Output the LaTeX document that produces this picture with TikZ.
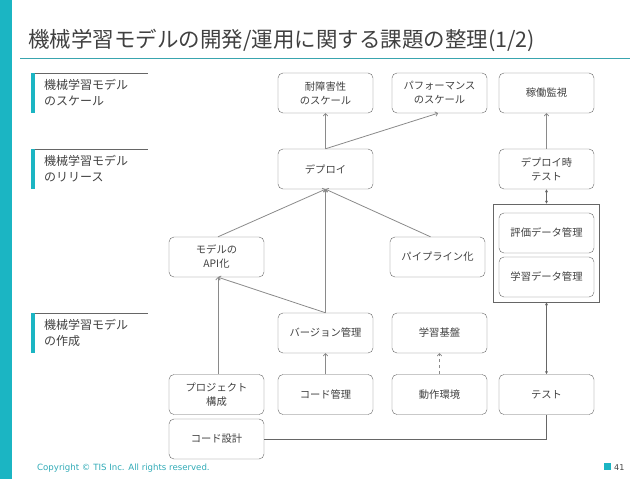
\documentclass[tikz,border=0pt]{standalone}
\usepackage{fontspec}
\setmainfont{Noto Sans CJK JP}
\newfontfamily\footfont{DejaVu Sans}
\usetikzlibrary{arrows.meta}
\definecolor{teal1}{HTML}{1BB5C3}
\definecolor{txt}{HTML}{404040}
\definecolor{edge}{HTML}{666666}
\definecolor{arr}{HTML}{8A8A8A}
\tikzset{
  box/.style={draw=edge, rounded corners=5pt, minimum width=95pt, minimum height=40pt, align=center, font=\fontsize{10.3}{14}\selectfont, text=txt, inner sep=1pt},
  link/.style={arr, thick, -{To[length=3pt,width=5pt]}},
  dbl/.style={edge, {Latex[length=3pt,width=3pt]}-{Latex[length=3pt,width=3pt]}},
  seclabel/.style={anchor=north west, align=left, font=\fontsize{12}{16}\selectfont, text=txt, inner sep=0pt}
}
\begin{document}
\begin{tikzpicture}[x=1pt,y=-1pt]
\useasboundingbox (0,0) rectangle (638,479);
\fill[teal1] (0,0) rectangle (12,479);

\node[anchor=base west, font=\fontsize{21.5}{24}\selectfont, text=txt, inner sep=0pt] (title) at (28,47) {機械学習モデルの開発/運用に関する課題の整理(1/2)};
\draw[teal1!70!gray] (20,58.5) -- (630,58.5);

% sections
\foreach \y/\t [count=\i] in {73/のスケール, 149/のリリース, 313/の作成} {
  \fill[teal1] (31,\y) rectangle (34.5,\y+40);
  \draw[edge] (34.5,\y) -- (148,\y);
  \node[seclabel] (sec\i) at (44,\y+6) {機械学習モデル\\\t};
}

% nodes
\node[box] (fault) at (325.5,93) {耐障害性\\のスケール};
\node[box] (perf) at (439.5,93) {パフォーマンス\\のスケール};
\node[box] (monitor) at (546.5,93) {稼働監視};
\node[box] (deploy) at (325.5,169) {デプロイ};
\node[box] (dtest) at (546.5,169) {デプロイ時\\テスト};
\node[draw=edge, minimum width=106pt, minimum height=98pt, inner sep=0pt] (data) at (546,253) {};
\node[box] (evaldata) at (546.5,233) {評価データ管理};
\node[box] (traindata) at (546.5,277) {学習データ管理};
\node[box] (api) at (216.5,257) {モデルの\\API化};
\node[box] (pipe) at (437.5,257) {パイプライン化};
\node[box] (version) at (325.5,333) {バージョン管理};
\node[box] (infra) at (439.5,333) {学習基盤};
\node[box] (project) at (216.5,394.5) {プロジェクト\\構成};
\node[box] (code) at (325.5,394.5) {コード管理};
\node[box] (env) at (439.5,394.5) {動作環境};
\node[box] (test) at (546.5,394.5) {テスト};
\node[box] (design) at (216.5,439) {コード設計};

% connectors
\draw[link] (deploy.north) -- (fault.south);
\draw[link] (deploy.north) -- ([xshift=-1.5pt]perf.south);
\draw[link] (dtest.north) -- (monitor.south);
\draw[dbl] (dtest.south) -- (data.north -| dtest.south);
\draw[dbl] (data.south -| test.north) -- (test.north);
\draw[link] ([xshift=1.5pt]api.north) -- (deploy.south);
\draw[link] (version.north) -- (deploy.south);
\draw[link] ([xshift=-7pt]pipe.north) -- (deploy.south);
\draw[link] (version.north) -- ([xshift=1.5pt]api.south);
\draw[link] ([xshift=1.5pt]project.north) -- ([xshift=1.5pt]api.south);
\draw[link] (code.north) -- (version.south);
\draw[link, dashed] (env.north) -- (infra.south);
\draw[edge] (design.east) -| (test.south);

% footer
\node[anchor=base west, font=\footfont\fontsize{8.6}{9}\selectfont, text=teal1!80!gray, inner sep=0pt] (copy) at (37,470) {Copyright © TIS Inc. All rights reserved.};
\fill[teal1] (604,463) rectangle (611,470);
\node[anchor=base west, font=\footfont\fontsize{8}{9}\selectfont, text=txt, inner sep=0pt] (page) at (614,470) {41};
\end{tikzpicture}
\end{document}
